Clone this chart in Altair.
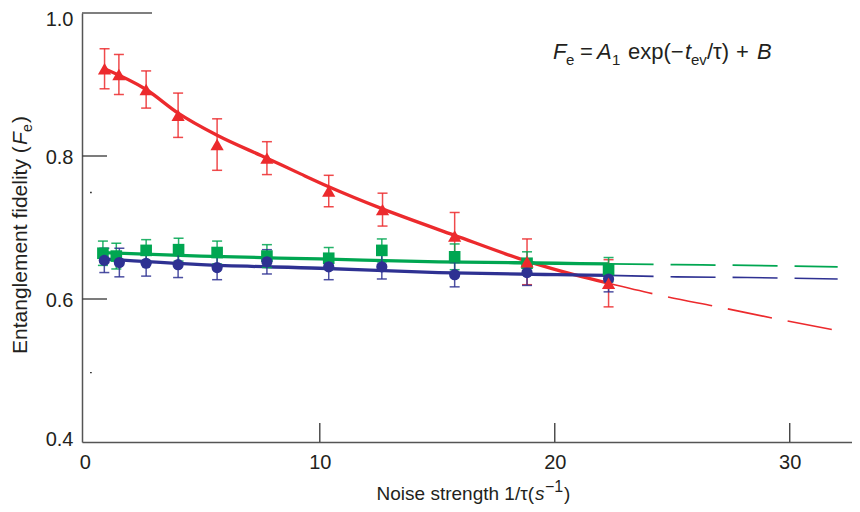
import altair as alt
import pandas as pd

RED = "#EC2A2D"
GREEN = "#00A651"
BLUE = "#2E3192"
INK = "#231F20"
FONT = "Liberation Sans"

# ---- measured points (x = 1/tau, y = fidelity, err = half error bar) ----
red_x = [0.84, 1.45, 2.61, 3.97, 5.63, 7.75, 10.38, 12.67, 15.74, 18.82, 22.29]
red_y = [0.922, 0.914, 0.893, 0.857, 0.816, 0.797, 0.751, 0.725, 0.688, 0.652, 0.622]
red_err = [0.028, 0.028, 0.026, 0.031, 0.036, 0.023, 0.022, 0.023, 0.033, 0.032, 0.033]

green_x = [0.77, 1.34, 2.61, 3.99, 5.63, 7.75, 10.38, 12.64, 15.74, 18.82, 22.29]
green_y = [0.664, 0.660, 0.668, 0.669, 0.665, 0.660, 0.657, 0.668, 0.659, 0.650, 0.641]
green_err = [0.017, 0.018, 0.015, 0.016, 0.016, 0.016, 0.015, 0.016, 0.018, 0.016, 0.017]

blue_x = [0.83, 1.47, 2.61, 3.97, 5.63, 7.75, 10.38, 12.64, 15.74, 18.82, 22.29]
blue_y = [0.654, 0.651, 0.650, 0.648, 0.644, 0.652, 0.645, 0.645, 0.634, 0.637, 0.628]
blue_err = [0.017, 0.020, 0.018, 0.018, 0.017, 0.017, 0.018, 0.017, 0.017, 0.018, 0.018]

# ---- fitted curves (solid part, dashed extrapolation) ----
red_fit_x = [0.84, 2.61, 3.97, 5.63, 7.75, 9.18, 10.38, 12.67, 15.74, 18.82, 20.94, 22.29]
red_fit_y = [0.922, 0.893, 0.860, 0.829, 0.797, 0.775, 0.757, 0.726, 0.689, 0.653, 0.633, 0.622]
red_ext_x = [22.29, 24.36, 27.09, 29.62, 32.15]
red_ext_y = [0.622, 0.606, 0.588, 0.571, 0.555]

green_fit_x = [0.78, 4.95, 10.0, 15.06, 20.11, 22.29]
green_fit_y = [0.665, 0.660, 0.656, 0.652, 0.650, 0.649]
green_ext_x = [22.29, 25.17, 28.2, 32.04]
green_ext_y = [0.649, 0.648, 0.647, 0.645]

blue_fit_x = [0.78, 4.95, 10.0, 15.06, 20.11, 22.29]
blue_fit_y = [0.656, 0.648, 0.643, 0.637, 0.634, 0.633]
blue_ext_x = [22.29, 25.17, 28.2, 32.04]
blue_ext_y = [0.633, 0.631, 0.630, 0.628]

# ---- axes ----
x_domain = [-0.12, 32.65]
y_domain = [0.4, 1.0]
x_ticks = [0, 10, 20, 30]
y_ticks = [0.4, 0.6, 0.8, 1.0]
y_inner_ticks = [0.6, 0.8]
x_inner_ticks = [10, 20, 30]
stray_x = [0.26, 0.26]
stray_y = [0.749, 0.497]

W, H = 770, 429

xaxis = alt.Axis(values=x_ticks, format="d", title=None, grid=False, ticks=False, tickSize=0,
                 labelFontSize=20, labelFont=FONT, labelColor=INK, labelPadding=10,
                 domainColor="#555555", domainWidth=1.5)
yaxis = alt.Axis(values=y_ticks, format=".1f", title=None, grid=False, ticks=False, tickSize=0,
                 labelFontSize=20, labelFont=FONT, labelColor=INK, labelPadding=9,
                 labelOffset={"condition": [{"test": "datum.value > 0.9", "value": 6},
                                            {"test": "datum.value < 0.5", "value": -3}],
                              "value": 1},
                 domainColor="#555555", domainWidth=1.5)
xs = alt.Scale(domain=x_domain, nice=False, zero=False)
ys = alt.Scale(domain=y_domain, nice=False, zero=False)


def X(f="x"):
    return alt.X(f"{f}:Q", scale=xs, axis=xaxis)


def Y(f="y"):
    return alt.Y(f"{f}:Q", scale=ys, axis=yaxis)


def line(xv, yv, color, width, dash=None):
    df = pd.DataFrame({"x": xv, "y": yv, "o": list(range(len(xv)))})
    kw = dict(color=color, strokeWidth=width, interpolate="monotone")
    if dash:
        kw["strokeDash"] = dash
    return alt.Chart(df).mark_line(**kw).encode(x=X(), y=Y(), order="o:O")


def errbars(xv, yv, ev, color):
    df = pd.DataFrame({"x": xv, "y": yv, "e": ev})
    df["lo"] = df["y"] - df["e"]
    df["hi"] = df["y"] + df["e"]
    base = alt.Chart(df)
    r = base.mark_rule(color=color, strokeWidth=1.5, opacity=0.85).encode(x=X(), y=Y("lo"), y2="hi:Q")
    c1 = base.mark_tick(color=color, orient="horizontal", size=10, thickness=1.5, opacity=0.85).encode(x=X(), y=Y("lo"))
    c2 = base.mark_tick(color=color, orient="horizontal", size=10, thickness=1.5, opacity=0.85).encode(x=X(), y=Y("hi"))
    return [r, c1, c2]


def points(xv, yv, color, shape, size):
    df = pd.DataFrame({"x": xv, "y": yv})
    return alt.Chart(df).mark_point(filled=True, opacity=1, color=color, shape=shape, size=size).encode(x=X(), y=Y())


def label(txt, x, y, size=19, italic=False, angle=0, align="left"):
    return alt.Chart(pd.DataFrame({"t": [txt]})).mark_text(
        text=txt, font=FONT, fontSize=size, fontStyle="italic" if italic else "normal",
        align=align, baseline="alphabetic", angle=angle, color=INK
    ).encode(x=alt.value(x), y=alt.value(y))


layers = []
# inward ticks
layers.append(alt.Chart(pd.DataFrame({"y": y_inner_ticks})).mark_rule(color="#444444", strokeWidth=1.4)
              .encode(y=Y(), x=alt.value(0), x2=alt.value(25)))
layers.append(alt.Chart(pd.DataFrame({"y": [1.0]})).mark_rule(color="#555555", strokeWidth=1.5)
              .encode(y=Y(), x=alt.value(0), x2=alt.value(70)))
layers.append(alt.Chart(pd.DataFrame({"x": x_inner_ticks})).mark_rule(color="#444444", strokeWidth=1.4)
              .encode(x=X(), y=alt.value(H), y2=alt.value(H - 19)))
layers.append(alt.Chart(pd.DataFrame({"x": stray_x, "y": stray_y})).mark_square(color="black", size=2, opacity=1)
              .encode(x=X(), y=Y()))

# curves
layers += [
    line(red_ext_x, red_ext_y, RED, 1.6, [45, 16]),
    line(green_ext_x, green_ext_y, GREEN, 1.8, [45, 17]),
    line(blue_ext_x, blue_ext_y, BLUE, 1.6, [45, 17]),
    line(red_fit_x, red_fit_y, RED, 3.3),
    line(green_fit_x, green_fit_y, GREEN, 3.3),
    line(blue_fit_x, blue_fit_y, BLUE, 3.3),
]
# error bars
layers += errbars(red_x, red_y, red_err, RED)
layers += errbars(green_x, green_y, green_err, GREEN)
layers += errbars(blue_x, blue_y, blue_err, BLUE)
# markers
layers += [
    points(green_x, green_y, GREEN, "square", 135),
    points(blue_x, blue_y, BLUE, "circle", 125),
    points(red_x, red_y, RED, "triangle-up", 175),
]

# formula  F_e = A_1 exp(-t_ev/tau) + B
fb, sb, fs, ss = 46, 52, 22, 15
layers += [
    label("F", 471, fb, size=fs, italic=True),
    label("e", 484, sb, size=ss),
    label("=", 498, fb, size=fs),
    label("A", 515, fb, size=fs, italic=True),
    label("1", 530, sb, size=ss),
    label("exp(\u2212", 546, fb, size=fs),
    label("t", 603, fb, size=fs, italic=True),
    label("ev", 609, sb, size=ss),
    label("/\u03c4)", 625, fb, size=fs),
    label("+", 654, fb, size=fs),
    label("B", 675, fb, size=fs, italic=True),
]

# x-axis title: Noise strength 1/tau(s^-1)
tb = 487
layers += [
    label("Noise strength 1/\u03c4(", 452, tb, align="right"),
    label("s", 453, tb, italic=True),
    label("\u22121", 463, tb - 8, size=16),
    label(")", 482, tb),
]

# y-axis title: Entanglement fidelity (F_e)
yx = -55
yfs = 21
layers += [
    label("Entanglement fidelity (", yx, 341, size=yfs, angle=270),
    label("F", yx, 132, size=yfs, italic=True, angle=270),
    label("e", yx + 5, 119, size=14, angle=270),
    label(")", yx, 110, size=yfs, angle=270),
]

chart = alt.layer(*layers).properties(
    width=W, height=H,
    autosize=alt.AutoSizeParams(type="none"),
    padding={"left": 74, "top": 5, "right": 0, "bottom": 62},
).configure_view(stroke=None)

chart.save("out.html", embed_options={"renderer": "svg", "actions": False})
